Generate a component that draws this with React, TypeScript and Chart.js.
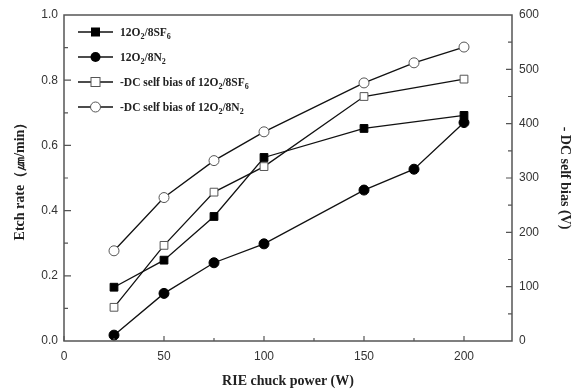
import React, { useEffect, useRef } from "react";
import { Chart, registerables } from "chart.js";

Chart.register(...registerables);

const powers = [25, 50, 75, 100, 150, 175, 200];
const etchSF6: (number | null)[] = [0.165, 0.248, 0.382, 0.563, 0.652, null, 0.692];
const etchN2: (number | null)[] = [0.018, 0.146, 0.240, 0.298, 0.463, 0.527, 0.670];
const biasSF6: (number | null)[] = [62, 176, 274, 321, 450, null, 482];
const biasN2: (number | null)[] = [166, 264, 332, 385, 475, 512, 541];

const xTicks = [0, 50, 100, 150, 200];
const leftTicks = [0, 0.2, 0.4, 0.6, 0.8, 1.0];
const rightTicks = [0, 100, 200, 300, 400, 500, 600];

const legendItems = [
  { parts: [["12O", ""], ["2", "sub"], ["/8SF", ""], ["6", "sub"]], marker: "rect", filled: true },
  { parts: [["12O", ""], ["2", "sub"], ["/8N", ""], ["2", "sub"]], marker: "circle", filled: true },
  { parts: [["-DC self bias of 12O", ""], ["2", "sub"], ["/8SF", ""], ["6", "sub"]], marker: "rect", filled: false },
  { parts: [["-DC self bias of 12O", ""], ["2", "sub"], ["/8N", ""], ["2", "sub"]], marker: "circle", filled: false },
];

const AXIS_COLOR = "#555";
const SERIF = "Liberation Serif, DejaVu Serif, serif";
const SANS = "Liberation Sans, Arimo, DejaVu Sans, sans-serif";

function toPts(vals: (number | null)[]) {
  const out: { x: number; y: number }[] = [];
  vals.forEach((v, i) => {
    if (v !== null) out.push({ x: powers[i], y: v });
  });
  return out;
}

const framePlugin = {
  id: "frameTicks",
  afterDraw(chart: any) {
    const ctx = chart.ctx;
    const { left, right, top, bottom } = chart.chartArea;
    const x = chart.scales.x;
    const y = chart.scales.y;
    const y1 = chart.scales.y1;
    ctx.save();
    ctx.strokeStyle = AXIS_COLOR;
    ctx.lineWidth = 1.5;
    ctx.strokeRect(left, top, right - left, bottom - top);
    ctx.lineWidth = 1.2;
    ctx.beginPath();
    for (let v = 0; v <= 200; v += 25) {
      const px = x.getPixelForValue(v);
      const len = v % 50 === 0 ? 5 : 3;
      ctx.moveTo(px, bottom);
      ctx.lineTo(px, bottom - len);
    }
    for (let i = 1; i < 10; i++) {
      const py = y.getPixelForValue(i / 10);
      const len = i % 2 === 0 ? 7 : 4;
      ctx.moveTo(left, py);
      ctx.lineTo(left + len, py);
    }
    for (let v = 50; v < 600; v += 50) {
      const py = y1.getPixelForValue(v);
      const len = v % 100 === 0 ? 6 : 4;
      ctx.moveTo(right, py);
      ctx.lineTo(right - len, py);
    }
    ctx.stroke();

    // legend
    const rows = [32, 57, 82, 107];
    legendItems.forEach((item, i) => {
      const cy = rows[i];
      ctx.strokeStyle = "#111";
      ctx.lineWidth = 1.3;
      ctx.beginPath();
      ctx.moveTo(78, cy);
      ctx.lineTo(113, cy);
      ctx.stroke();
      const mx = 95.5;
      ctx.lineWidth = 1;
      if (item.marker === "rect") {
        ctx.fillStyle = item.filled ? "#000" : "#fff";
        ctx.fillRect(mx - 4.5, cy - 4.5, 9, 9);
        if (!item.filled) {
          ctx.strokeStyle = "#555";
          ctx.strokeRect(mx - 4.5, cy - 4.5, 9, 9);
        }
      } else {
        ctx.beginPath();
        ctx.arc(mx, cy, 5, 0, Math.PI * 2);
        ctx.fillStyle = item.filled ? "#000" : "#fff";
        ctx.fill();
        if (!item.filled) {
          ctx.strokeStyle = "#555";
          ctx.stroke();
        }
      }
      let tx = 120;
      ctx.fillStyle = "#222";
      ctx.textBaseline = "alphabetic";
      ctx.textAlign = "left";
      item.parts.forEach(([t, kind]) => {
        if (kind === "sub") {
          ctx.font = "bold 8px " + SERIF;
          ctx.fillText(t, tx, cy + 7);
        } else {
          ctx.font = "bold 11.5px " + SERIF;
          ctx.fillText(t, tx, cy + 4);
        }
        tx += ctx.measureText(t).width;
      });
    });
    ctx.restore();
  },
};

export default function App() {
  const ref = useRef<HTMLCanvasElement>(null);
  useEffect(() => {
    if (!ref.current) return;
    const lineStyle = { borderColor: "#111", borderWidth: 1.3, showLine: true, spanGaps: true };
    const tickFont = { family: SANS, size: 12 };
    const chart = new Chart(ref.current, {
      type: "scatter",
      data: {
        datasets: [
          {
            ...lineStyle,
            data: toPts(etchSF6),
            yAxisID: "y",
            pointStyle: "rect",
            pointRadius: 5.5,
            pointBackgroundColor: "#000",
            pointBorderColor: "#000",
            pointBorderWidth: 1,
          },
          {
            ...lineStyle,
            data: toPts(etchN2),
            yAxisID: "y",
            pointStyle: "circle",
            pointRadius: 5,
            pointBackgroundColor: "#000",
            pointBorderColor: "#000",
            pointBorderWidth: 1,
          },
          {
            ...lineStyle,
            data: toPts(biasSF6),
            yAxisID: "y1",
            pointStyle: "rect",
            pointRadius: 5.5,
            pointBackgroundColor: "#fff",
            pointBorderColor: "#555",
            pointBorderWidth: 1,
          },
          {
            ...lineStyle,
            data: toPts(biasN2),
            yAxisID: "y1",
            pointStyle: "circle",
            pointRadius: 5,
            pointBackgroundColor: "#fff",
            pointBorderColor: "#555",
            pointBorderWidth: 1,
          },
        ],
      },
      options: {
        responsive: false,
        animation: false,
        layout: { padding: { top: 15, left: 0, right: 0, bottom: 0 } },
        plugins: { legend: { display: false }, tooltip: { enabled: false } },
        scales: {
          x: {
            type: "linear",
            min: 0,
            max: 224,
            border: { display: false },
            grid: { display: false, drawTicks: false },
            afterBuildTicks: (s: any) => {
              s.ticks = xTicks.map((v) => ({ value: v }));
            },
            afterFit: (s: any) => {
              s.height = 49;
            },
            ticks: {
              padding: 8,
              color: "#333",
              font: tickFont,
              maxRotation: 0,
              callback: (v: any) => String(v),
            },
            title: {
              display: true,
              text: "RIE chuck power (W)",
              color: "#222",
              font: { family: SERIF, size: 14, weight: "bold" },
              padding: 0,
            },
          },
          y: {
            type: "linear",
            position: "left",
            min: 0,
            max: 1,
            border: { display: false },
            grid: { display: false, drawTicks: false },
            afterBuildTicks: (s: any) => {
              s.ticks = leftTicks.map((v) => ({ value: v }));
            },
            afterFit: (s: any) => {
              s.width = 64;
            },
            ticks: {
              padding: 6,
              color: "#333",
              font: tickFont,
              callback: (v: any) => Number(v).toFixed(1),
            },
            title: {
              display: true,
              text: "Etch rate（㎛/min）",
              color: "#222",
              font: { family: SERIF, size: 14, weight: "bold" },
              padding: { top: 12, bottom: 0 },
            },
          },
          y1: {
            type: "linear",
            position: "right",
            min: 0,
            max: 600,
            border: { display: false },
            grid: { display: false, drawTicks: false },
            afterBuildTicks: (s: any) => {
              s.ticks = rightTicks.map((v) => ({ value: v }));
            },
            afterFit: (s: any) => {
              s.width = 65;
            },
            ticks: {
              padding: 7,
              color: "#333",
              font: tickFont,
            },
            title: {
              display: true,
              text: "- DC self bias (V)",
              color: "#222",
              font: { family: SERIF, size: 14, weight: "bold" },
              padding: { top: 4, bottom: 0 },
            },
          },
        },
      },
      plugins: [framePlugin],
    } as any);
    return () => chart.destroy();
  }, []);
  return (
    <div style={{ position: "fixed", left: 0, top: 0, width: 577, height: 390, background: "#fff" }}>
      <canvas ref={ref} width={577} height={390} style={{ display: "block" }} />
    </div>
  );
}
